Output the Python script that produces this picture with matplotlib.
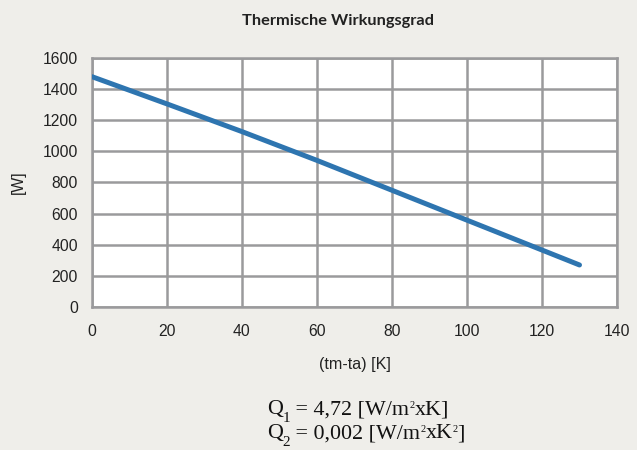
import matplotlib.pyplot as plt
from matplotlib.transforms import offset_copy

# values
dt_k = [0, 20, 40, 60, 80, 100, 120, 130]
power_w = [1480, 1305, 1127, 942, 750, 558, 366, 270]
x_ticks = [0, 20, 40, 60, 80, 100, 120, 140]
y_ticks = [0, 200, 400, 600, 800, 1000, 1200, 1400, 1600]

bg = '#efeeea'
grid_col = '#9a9a9c'
line_col = '#2e75b0'
txt_col = '#222222'

plt.rcParams['font.family'] = ['Liberation Sans', 'DejaVu Sans']

fig = plt.figure(figsize=(6.37, 4.5), dpi=100, facecolor=bg)
ax = fig.add_axes([0.1444, 0.3178, 0.8242, 0.5533])
ax.set_facecolor('white')

ax.plot(dt_k, power_w, color=line_col, lw=3.6, solid_capstyle='round', zorder=3)

ax.set_xlim(0, 140)
ax.set_ylim(0, 1600)
ax.set_xticks(x_ticks)
ax.set_yticks(y_ticks)
ax.grid(True, color=grid_col, lw=1.8)
ax.set_axisbelow(True)
for s in ax.spines.values():
    s.set_color(grid_col)
    s.set_linewidth(1.8)
ax.tick_params(length=0, labelsize=11.3, colors=txt_col)
ax.tick_params(axis='x', pad=12)
ax.tick_params(axis='y', pad=10)

ax.set_xlabel('(tm-ta) [K]', fontsize=11.6, color=txt_col, labelpad=13)
ax.set_ylabel('[W]', fontsize=11.3, color=txt_col, labelpad=12)

fig.text(0.531, 0.944, 'Thermische Wirkungsgrad', ha='center', va='baseline',
         fontsize=11.8, fontweight='bold', family='Lato', color=txt_col)


def text_runs(x, y, runs):
    # writes pieces of text one after another, each with its own size and vertical shift
    renderer = fig.canvas.get_renderer()
    dx = 0
    for s, size, dy in runs:
        tr = offset_copy(fig.transFigure, fig=fig, x=dx, y=dy, units='dots')
        t = fig.text(x, y, s, transform=tr, ha='left', va='baseline',
                     fontsize=size, family='Liberation Serif', color='#111111')
        dx += t.get_window_extent(renderer).width


big, sub, sup = 15.8, 11, 7.5
text_runs(0.4187, 1 - 414 / 450, [('Q', big, 0), ('1', sub, -8.5), (' = 4,72 [W/m', big, 0),
                                  ('2', sup, 6.5), ('xK]', big, 0)])
text_runs(0.4187, 1 - 438 / 450, [('Q', big, 0), ('2', sub, -8.5), (' = 0,002 [W/m', big, 0),
                                  ('2', sup, 6.5), ('xK', big, 0), ('2', sup, 6.5), (']', big, 0)])

fig.savefig('out.png', dpi=100, facecolor=bg)
